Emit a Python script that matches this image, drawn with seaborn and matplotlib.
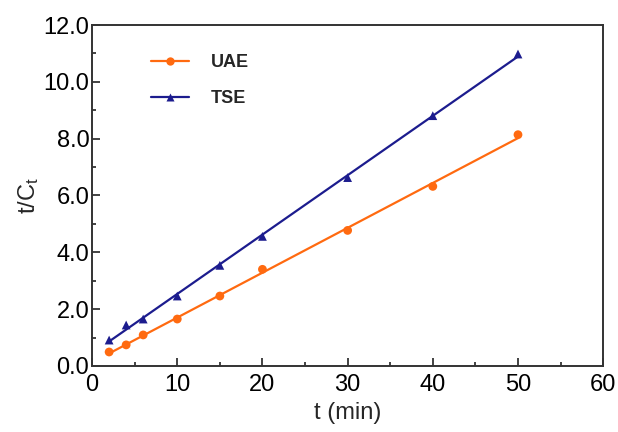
import numpy as np
import pandas as pd
import seaborn as sns
import matplotlib.pyplot as plt
from matplotlib.lines import Line2D
from matplotlib.ticker import MultipleLocator, FormatStrFormatter

# Sampling times (min)
t_min = [2, 4, 6, 10, 15, 20, 30, 40, 50]
# t/Ct values for the two extraction methods
uae = [0.49, 0.74, 1.09, 1.65, 2.46, 3.40, 4.77, 6.32, 8.14]
tse = [0.91, 1.44, 1.65, 2.46, 3.54, 4.56, 6.63, 8.81, 10.98]

series_names = ["UAE", "TSE"]
colors = {"UAE": "#FF6A10", "TSE": "#1C1C8E"}
markers = {"UAE": "o", "TSE": "^"}

df = pd.DataFrame({
    "t": t_min * 2,
    "y": uae + tse,
    "method": ["UAE"] * len(t_min) + ["TSE"] * len(t_min),
})

sns.set_theme(style="ticks")
plt.rcParams["font.family"] = ["Liberation Sans", "DejaVu Sans"]
plt.rcParams["mathtext.fontset"] = "custom"
plt.rcParams["mathtext.rm"] = "Liberation Sans"
plt.rcParams["mathtext.it"] = "Liberation Sans"

fig = plt.figure(figsize=(6.18, 4.32), dpi=100)
ax = fig.add_axes([0.149, 0.153, 0.827, 0.789])

for name in series_names:
    sub = df[df["method"] == name]
    sns.regplot(data=sub, x="t", y="y", ax=ax, ci=None, truncate=True,
                scatter=False, color=colors[name],
                line_kws={"lw": 1.6, "zorder": 2})
    sns.scatterplot(data=sub, x="t", y="y", ax=ax, color=colors[name],
                    marker=markers[name], s=40, edgecolor="none",
                    zorder=3, legend=False)

ax.set_xlim(0, 60)
ax.set_ylim(0, 12)
ax.xaxis.set_major_locator(MultipleLocator(10))
ax.xaxis.set_minor_locator(MultipleLocator(5))
ax.yaxis.set_major_locator(MultipleLocator(2))
ax.yaxis.set_minor_locator(MultipleLocator(1))
ax.yaxis.set_major_formatter(FormatStrFormatter("%.1f"))

ax.tick_params(which="both", direction="in", top=False, right=False,
               colors="#222222", labelcolor="black")
ax.tick_params(which="major", length=5.5, width=1.2, labelsize=17)
ax.tick_params(axis="x", which="major", pad=6)
ax.tick_params(axis="y", which="major", pad=2)
ax.tick_params(which="minor", length=3, width=1.2)

for side in ["left", "right", "top", "bottom"]:
    ax.spines[side].set_visible(True)
    ax.spines[side].set_linewidth(1.4)
    ax.spines[side].set_color("#333333")

ax.set_xlabel("t (min)", fontsize=17, labelpad=4)
ax.set_ylabel(r"t/C$_\mathregular{t}$", fontsize=17, labelpad=2)

handles = [Line2D([0], [0], color=colors[n], lw=1.6, marker=markers[n],
                  markersize=6, markeredgecolor="none") for n in series_names]
ax.legend(handles, series_names, loc="upper left",
          bbox_to_anchor=(0.083, 0.962), frameon=False,
          prop={"weight": "bold", "size": 13}, handlelength=2.1,
          handletextpad=1.25, labelspacing=1.05)

fig.savefig("out.png", dpi=100)
